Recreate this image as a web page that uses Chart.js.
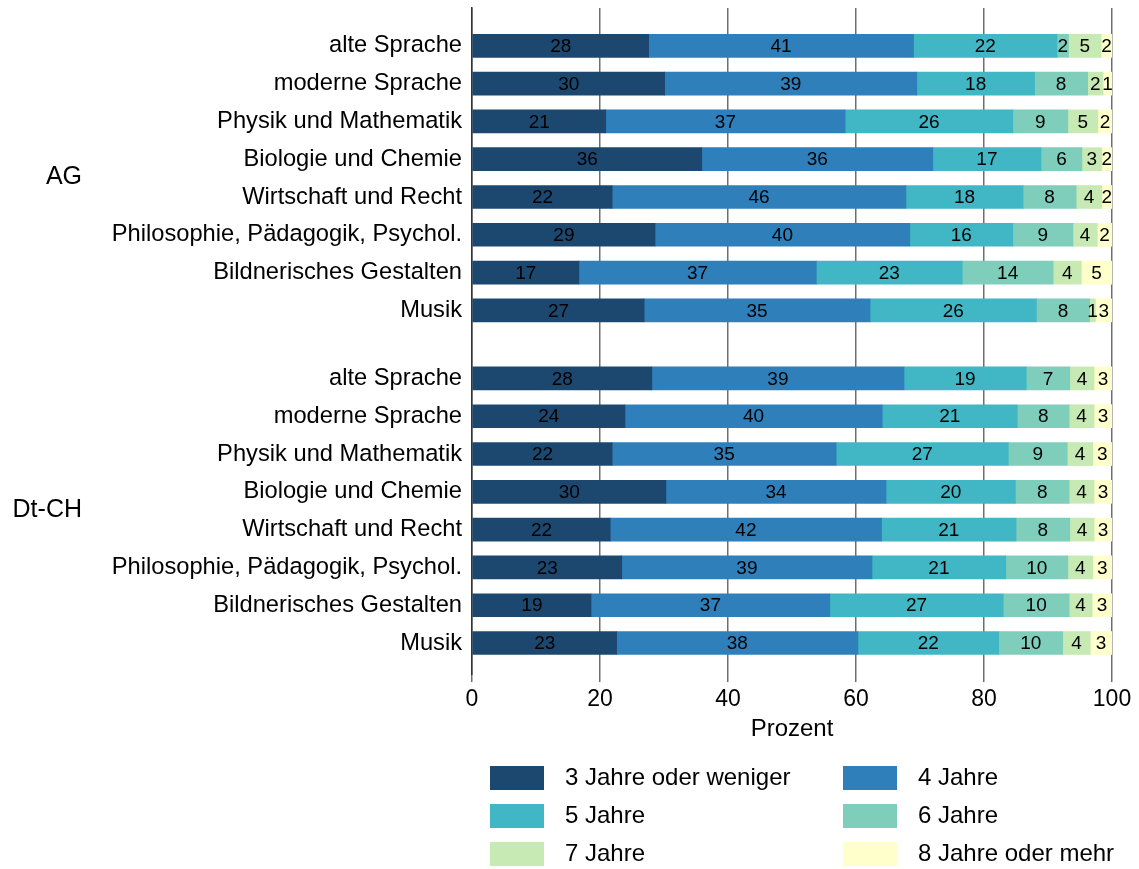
<!DOCTYPE html>
<html>
<head>
<meta charset="utf-8">
<script src="https://cdn.jsdelivr.net/npm/chart.js@4.4.0/dist/chart.umd.min.js"></script>
<style>
  html, body { margin: 0; padding: 0; background: #fff; }
  #wrap { width: 1139px; height: 869px; position: relative; }
</style>
</head>
<body>
<div id="wrap"><canvas id="chart"></canvas></div>
<script>
// Fächer (je Gruppe)
const subjects = ['alte Sprache', 'moderne Sprache', 'Physik und Mathematik', 'Biologie und Chemie',
    'Wirtschaft und Recht', 'Philosophie, Pädagogik, Psychol.', 'Bildnerisches Gestalten', 'Musik'];
const groups = ['AG', 'Dt-CH'];
const seriesNames = ['3 Jahre oder weniger', '4 Jahre', '5 Jahre', '6 Jahre', '7 Jahre', '8 Jahre oder mehr'];
const colors = ['#1c4870', '#2e7fba', '#41b6c4', '#7fcdbb', '#c7e9b4', '#ffffcc'];

// Prozent je Fach, AG
const ag3 = [27.6, 30.1, 20.9, 35.9, 21.9, 28.6, 16.7, 26.9];
const ag4 = [41.4, 39.4, 37.4, 36.1, 45.9, 39.8, 37.1, 35.3];
const ag5 = [22.4, 18.4, 26.2, 16.9, 18.3, 16.1, 22.8, 26.0];
const ag6 = [1.8, 8.3, 8.6, 6.4, 8.3, 9.4, 14.2, 8.3];
const ag7 = [5.1, 2.4, 4.7, 3.1, 4.0, 3.8, 4.4, 0.9];
const ag8 = [1.7, 1.4, 2.2, 1.6, 1.6, 2.3, 4.8, 2.6];

// Prozent je Fach, Dt-CH
const ch3 = [28.1, 23.9, 21.9, 30.3, 21.6, 23.4, 18.6, 22.6];
const ch4 = [39.4, 40.2, 35.0, 34.4, 42.4, 39.1, 37.3, 37.7];
const ch5 = [19.1, 21.1, 26.9, 20.2, 21.0, 20.9, 27.1, 22.0];
const ch6 = [6.8, 8.1, 9.2, 8.4, 8.4, 9.7, 10.3, 10.0];
const ch7 = [3.8, 3.9, 4.0, 3.9, 3.8, 3.9, 3.6, 4.3];
const ch8 = [2.8, 2.8, 3.0, 2.8, 2.8, 3.0, 3.1, 3.4];

const agSeries = [ag3, ag4, ag5, ag6, ag7, ag8];
const chSeries = [ch3, ch4, ch5, ch6, ch7, ch8];

// Lage der Balken auf der y-Achse (Lücke zwischen den Gruppen)
const groupGap = 1.8;
const agPos = subjects.map((s, i) => i);
const chPos = subjects.map((s, i) => subjects.length + groupGap - 1 + i);
const allPos = agPos.concat(chPos);
const allLabels = subjects.concat(subjects);

const fontFam = '"Liberation Sans", Arial, Helvetica, sans-serif';

const datasets = seriesNames.map((name, k) => ({
    label: name,
    data: agSeries[k].map((v, i) => ({ x: v, y: agPos[i] }))
        .concat(chSeries[k].map((v, i) => ({ x: v, y: chPos[i] }))),
    backgroundColor: colors[k],
    borderWidth: 0,
    barThickness: 23
}));

// Zahlen in den Balken
const barLabels = {
    id: 'barLabels',
    afterDatasetsDraw(chart) {
        const ctx = chart.ctx;
        ctx.save();
        ctx.font = '19px ' + fontFam;
        ctx.fillStyle = '#000';
        ctx.textAlign = 'center';
        ctx.textBaseline = 'middle';
        chart.data.datasets.forEach((ds, di) => {
            chart.getDatasetMeta(di).data.forEach((bar, i) => {
                const x = (bar.x + bar.base) / 2;
                ctx.fillText(String(Math.round(ds.data[i].x)), x, bar.y + 1);
            });
        });
        ctx.restore();
    }
};

// Gruppennamen und Legende
const extras = {
    id: 'extras',
    afterDraw(chart) {
        const ctx = chart.ctx;
        const y = chart.scales.y;
        ctx.save();
        ctx.font = '25px ' + fontFam;
        ctx.fillStyle = '#000';
        ctx.textAlign = 'right';
        ctx.textBaseline = 'middle';
        ctx.fillText(groups[0], 82, y.getPixelForValue((agPos[3] + agPos[4]) / 2) - 1);
        ctx.fillText(groups[1], 82, y.getPixelForValue((chPos[3] + chPos[4]) / 2) - 1);

        ctx.font = '24px ' + fontFam;
        ctx.textAlign = 'left';
        chart.data.datasets.forEach((ds, k) => {
            const col = k % 2, row = Math.floor(k / 2);
            const bx = col === 0 ? 490 : 843;
            const by = 766 + row * 38;
            ctx.fillStyle = ds.backgroundColor;
            ctx.fillRect(bx, by, 54, 24);
            ctx.fillStyle = '#000';
            ctx.fillText(ds.label, bx + 75, by + 12);
        });
        ctx.restore();
    }
};

new Chart(document.getElementById('chart'), {
    type: 'bar',
    data: { datasets: datasets },
    plugins: [barLabels, extras],
    options: {
        indexAxis: 'y',
        responsive: true,
        maintainAspectRatio: false,
        animation: false,
        layout: { padding: { top: 8, right: 27, bottom: 125, left: 0 } },
        plugins: {
            legend: { display: false },
            tooltip: { enabled: false }
        },
        scales: {
            x: {
                stacked: true,
                min: 0,
                max: 100,
                ticks: { stepSize: 20, color: '#000', font: { size: 23, family: fontFam }, padding: 4 },
                grid: { color: '#6e6e6e', lineWidth: 1.5, tickLength: 8 },
                border: { display: false },
                title: { display: true, text: 'Prozent', color: '#000', font: { size: 24, family: fontFam }, padding: 0 },
                afterFit: s => { s.height = 70; }
            },
            y: {
                type: 'linear',
                stacked: true,
                reverse: true,
                offset: false,
                min: -1,
                max: 16.62,
                afterBuildTicks: s => { s.ticks = allPos.map(v => ({ value: v })); },
                ticks: {
                    autoSkip: false,
                    color: '#000',
                    padding: 10,
                    font: { size: 23.7, family: fontFam },
                    callback: v => allLabels[allPos.indexOf(v)]
                },
                grid: { display: false, drawTicks: false },
                border: { display: true, color: '#333', width: 1.5 },
                afterFit: s => { s.width = 472; s.paddingTop = 0; s.paddingBottom = 0; }
            }
        }
    }
});
</script>
</body>
</html>
